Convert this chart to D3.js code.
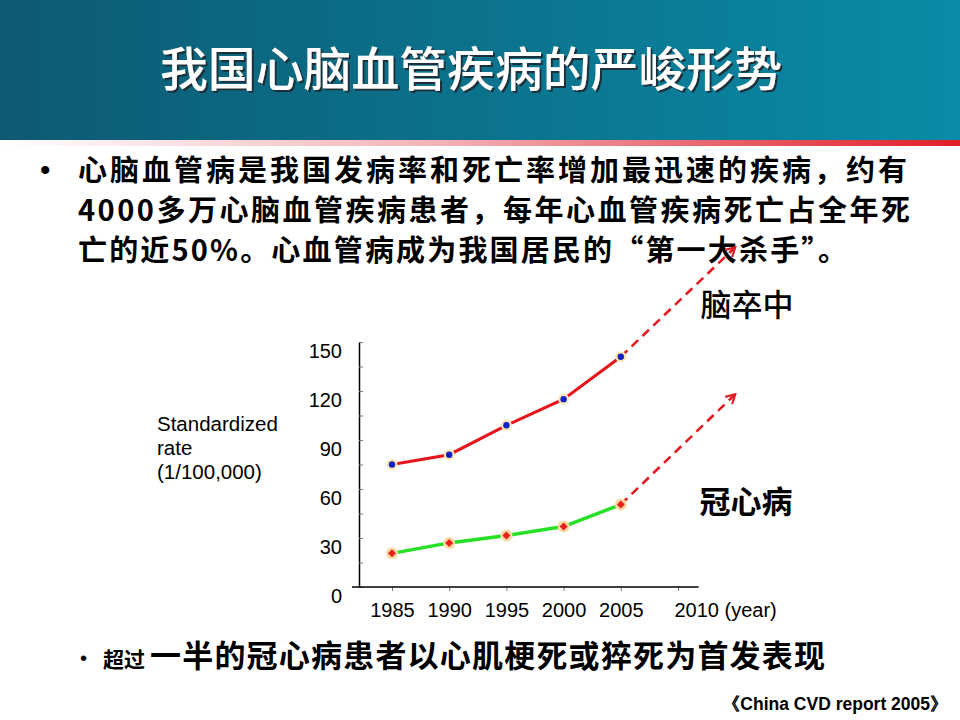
<!DOCTYPE html>
<html lang="zh">
<head>
    <meta charset="UTF-8">
    <title>我国心脑血管疾病的严峻形势</title>
    <script src="https://d3js.org/d3.v7.min.js"></script>
    <style>
        html, body {
            margin: 0;
            background: #fff;
        }
        svg text {
            font-family: "Noto Sans CJK SC", sans-serif;
        }
        .latin {
            font-family: "Liberation Sans", Arial, sans-serif;
        }
        .axis text {
            font-family: "Liberation Sans", Arial, sans-serif;
            font-size: 20px;
            fill: #000;
        }
    </style>
</head>
<body>
<div id="vis"></div>
<script>

    // ---- data ----
    var years = [1985, 1990, 1995, 2000, 2005];
    var strokeRate = [75, 81, 99, 115, 141];        // 脑卒中
    var chdRate = [20.6, 27, 31.5, 37, 50.5];       // 冠心病
    var projYear = 2015;
    var strokeProj = 208;
    var chdProj = 118;

    var xTicks = [1985, 1990, 1995, 2000, 2005, 2010];
    var yTicks = [0, 15, 30, 45, 60, 75, 90, 105, 120, 135, 150];
    var yLabelled = [0, 30, 60, 90, 120, 150];
    var xAxisExtent = [1981.5, 2011.8];

    var titleText = "我国心脑血管疾病的严峻形势";
    var bodyLines = [
        "心脑血管病是我国发病率和死亡率增加最迅速的疾病，约有",
        "4000多万心脑血管疾病患者，每年心血管疾病死亡占全年死",
        "亡的近50%。心血管病成为我国居民的“第一大杀手”。"
    ];

    var width = 960, height = 720;

    var svg = d3.select("#vis")
        .append("svg")
            .attr("width", width)
            .attr("height", height);

    var defs = svg.append("defs");

    /*
     *  HEADER
     */
    var hg = defs.append("linearGradient").attr("id", "hdr")
        .attr("x1", "0").attr("x2", "1").attr("y1", "0").attr("y2", "0");
    hg.append("stop").attr("offset", "0").attr("stop-color", "#0d5a72");
    hg.append("stop").attr("offset", "1").attr("stop-color", "#0a8ba7");

    var sg = defs.append("linearGradient").attr("id", "stripe")
        .attr("x1", "0").attr("x2", "1").attr("y1", "0").attr("y2", "0");
    sg.append("stop").attr("offset", "0").attr("stop-color", "#ffffff");
    sg.append("stop").attr("offset", "0.45").attr("stop-color", "#f2b4b8");
    sg.append("stop").attr("offset", "1").attr("stop-color", "#e01e2a");

    var shadow = defs.append("filter").attr("id", "shadow")
        .attr("x", "-5%").attr("y", "-20%").attr("width", "110%").attr("height", "140%");
    shadow.append("feDropShadow")
        .attr("dx", 2).attr("dy", 2)
        .attr("stdDeviation", 0.6)
        .attr("flood-color", "#1e2a30")
        .attr("flood-opacity", 0.9);

    svg.append("rect")
        .attr("x", 0).attr("y", 0)
        .attr("width", width).attr("height", 140)
        .attr("fill", "url(#hdr)");

    svg.append("rect")
        .attr("x", 0).attr("y", 140)
        .attr("width", width).attr("height", 6)
        .attr("fill", "url(#stripe)");

    svg.append("text")
        .attr("x", 160).attr("y", 86)
        .attr("textLength", 622)
        .attr("lengthAdjust", "spacingAndGlyphs")
        .attr("font-size", 47)
        .attr("font-weight", 500)
        .attr("fill", "#fff")
        .attr("filter", "url(#shadow)")
        .text(titleText);

    /*
     *  BODY TEXT
     */
    svg.append("text")
        .attr("class", "latin")
        .attr("x", 40).attr("y", 180)
        .attr("font-size", 30)
        .attr("fill", "#000")
        .text("•");

    var bodyWidths = [829, 832, 769];
    svg.selectAll(".body")
        .data(bodyLines)
        .enter().append("text")
            .attr("class", "body")
            .attr("x", 78)
            .attr("y", function(d, i) { return 181 + i * 40; })
            .attr("textLength", function(d, i) { return bodyWidths[i]; })
            .attr("font-size", 29)
            .attr("font-weight", "bold")
            .attr("fill", "#000")
            .text(function(d) { return d; });

    /*
     *  CHART
     */
    var x = d3.scaleLinear()
        .domain([1985, 2010])
        .range([392, 678]);

    var y = d3.scaleLinear()
        .domain([0, 150])
        .range([587, 342]);

    // y axis, ticks point inwards
    var yAxis = d3.axisLeft(y)
        .tickValues(yTicks)
        .tickSizeInner(-4)
        .tickSizeOuter(0)
        .tickPadding(17)
        .tickFormat(function(d) { return yLabelled.indexOf(d) >= 0 ? d : ""; });

    var gy = svg.append("g")
        .attr("class", "axis")
        .attr("transform", "translate(359,0)")
        .call(yAxis);
    gy.select(".domain").attr("stroke", "#000").attr("stroke-width", 1.5);
    gy.selectAll(".tick line").attr("stroke", "#777").attr("stroke-width", 1);
    gy.selectAll(".tick text").attr("y", 9);

    // x axis
    var xAxis = d3.axisBottom(x)
        .tickValues(xTicks)
        .tickSizeInner(4)
        .tickSizeOuter(0)
        .tickPadding(12)
        .tickFormat(function(d) { return d === 2010 ? "2010 (year)" : d; });

    var gx = svg.append("g")
        .attr("class", "axis")
        .attr("transform", "translate(0," + y(0) + ")")
        .call(xAxis);
    gx.select(".domain").remove();
    gx.append("line")
        .attr("x1", x(xAxisExtent[0]))
        .attr("x2", x(xAxisExtent[1]))
        .attr("stroke", "#000")
        .attr("stroke-width", 1.5);
    gx.selectAll(".tick line").attr("stroke", "#777");
    gx.selectAll(".tick text")
        .filter(function(d) { return d === 2010; })
        .attr("text-anchor", "start")
        .attr("x", -4);

    // y axis caption
    svg.append("text")
        .attr("class", "latin")
        .attr("font-size", 20.5)
        .attr("fill", "#000")
        .selectAll("tspan")
        .data(["Standardized", "rate", "(1/100,000)"])
        .enter().append("tspan")
            .attr("x", 157)
            .attr("y", function(d, i) { return 431 + i * 24; })
            .text(function(d) { return d; });

    // arrow head for the projections
    defs.append("marker")
        .attr("id", "arrow")
        .attr("viewBox", "0 0 12 12")
        .attr("refX", 10).attr("refY", 6)
        .attr("markerWidth", 12).attr("markerHeight", 12)
        .attr("markerUnits", "userSpaceOnUse")
        .attr("orient", "auto")
      .append("path")
        .attr("d", "M1,1 L10,6 L1,11")
        .attr("fill", "none")
        .attr("stroke", "#e31b23")
        .attr("stroke-width", 2.2);

    var last = years.length - 1;

    // dashed projections
    [[strokeRate[last], strokeProj], [chdRate[last], chdProj]].forEach(function(p) {
        svg.append("line")
            .attr("x1", x(years[last])).attr("y1", y(p[0]))
            .attr("x2", x(projYear)).attr("y2", y(p[1]))
            .attr("stroke", "#e31b23")
            .attr("stroke-width", 2.6)
            .attr("stroke-dasharray", "9,6")
            .attr("marker-end", "url(#arrow)");
    });

    var line = d3.line()
        .x(function(d) { return x(d[0]); })
        .y(function(d) { return y(d[1]); });

    var strokeData = years.map(function(yr, i) { return [yr, strokeRate[i]]; });
    var chdData = years.map(function(yr, i) { return [yr, chdRate[i]]; });

    svg.append("path")
        .datum(strokeData)
        .attr("fill", "none")
        .attr("stroke", "#e8141c")
        .attr("stroke-width", 3)
        .attr("d", line);

    svg.append("path")
        .datum(chdData)
        .attr("fill", "none")
        .attr("stroke", "#26e026")
        .attr("stroke-width", 3.5)
        .attr("d", line);

    // stroke markers: blue dots with a pale glow
    var sm = svg.selectAll(".sdot")
        .data(strokeData)
        .enter().append("g")
            .attr("class", "sdot")
            .attr("transform", function(d) { return "translate(" + x(d[0]) + "," + y(d[1]) + ")"; });
    sm.append("circle").attr("r", 5.5).attr("fill", "#fbe7b4");
    sm.append("circle").attr("r", 3.2).attr("fill", "#1420c8");

    // CHD markers: red diamonds with a pale glow
    var cm = svg.selectAll(".cdot")
        .data(chdData)
        .enter().append("g")
            .attr("class", "cdot")
            .attr("transform", function(d) { return "translate(" + x(d[0]) + "," + y(d[1]) + ")"; });
    cm.append("circle").attr("r", 6).attr("fill", "#fbd9a6");
    cm.append("path").attr("d", "M0,-4L4,0L0,4L-4,0Z").attr("fill", "#e8201a");

    // series names
    svg.append("text")
        .attr("x", 747).attr("y", 316)
        .attr("text-anchor", "middle")
        .attr("font-size", 31)
        .attr("font-weight", 500)
        .attr("fill", "#000")
        .text("脑卒中");

    svg.append("text")
        .attr("x", 746).attr("y", 513)
        .attr("text-anchor", "middle")
        .attr("font-size", 31)
        .attr("font-weight", "bold")
        .attr("fill", "#000")
        .text("冠心病");

    /*
     *  FOOTER
     */
    svg.append("text")
        .attr("class", "latin")
        .attr("x", 80).attr("y", 665)
        .attr("font-size", 20)
        .attr("fill", "#000")
        .text("•");

    svg.append("text")
        .attr("x", 103).attr("y", 667)
        .attr("font-size", 21)
        .attr("font-weight", "bold")
        .attr("fill", "#000")
        .text("超过");

    svg.append("text")
        .attr("x", 150).attr("y", 667)
        .attr("textLength", 675)
        .attr("font-size", 31)
        .attr("font-weight", "bold")
        .attr("fill", "#000")
        .text("一半的冠心病患者以心肌梗死或猝死为首发表现");

    svg.append("text")
        .attr("class", "latin")
        .attr("x", 948).attr("y", 710)
        .attr("text-anchor", "end")
        .attr("font-size", 17.5)
        .attr("font-weight", "bold")
        .attr("fill", "#000")
        .text("《China CVD report 2005》");

</script>
</body>
</html>
